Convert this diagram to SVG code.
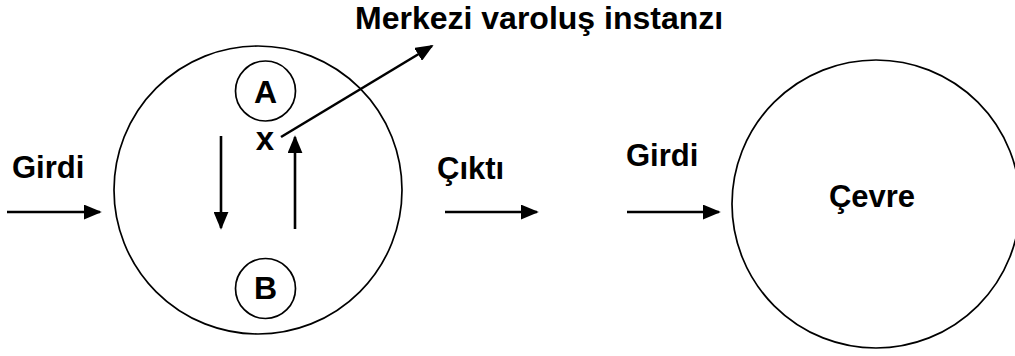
<svg xmlns="http://www.w3.org/2000/svg" width="1015" height="356" viewBox="0 0 1015 356">
<style>
.t{font-family:"Liberation Sans",Arial,sans-serif;font-weight:bold;font-size:31px;fill:#000}
.c{fill:none;stroke:#000;stroke-width:1.7}
.a{stroke:#000;stroke-width:2.6;fill:none}
</style>
<defs>
<marker id="ah" viewBox="0 0 10 10" refX="9" refY="5" markerWidth="18" markerHeight="15" markerUnits="userSpaceOnUse" orient="auto" preserveAspectRatio="none">
<path d="M0,0 L10,5 L0,10 Z" fill="#000"/>
</marker>
</defs>
<rect width="1015" height="356" fill="#fff"/>
<g id="system">
<circle class="c" cx="258" cy="190" r="144"/>
</g>
<g id="nodeA">
<circle class="c" cx="265.5" cy="91" r="30"/>
<text class="t" x="265.5" y="103" text-anchor="middle" style="font-size:32px">A</text>
</g>
<g id="nodeB">
<circle class="c" cx="265.5" cy="288.5" r="30"/>
<text class="t" x="265.5" y="299" text-anchor="middle" style="font-size:32px">B</text>
</g>
<g id="pointX">
<text class="t" x="265" y="150" text-anchor="middle" style="font-size:33px">x</text>
</g>
<g id="environment">
<circle class="c" cx="876" cy="204" r="144"/>
<text class="t" x="872" y="207" text-anchor="middle">Çevre</text>
</g>
<g id="labels">
<text class="t" x="355" y="29" style="font-size:32px">Merkezi varoluş instanzı</text>
<text class="t" x="12" y="178">Girdi</text>
<text class="t" x="437" y="179">Çıktı</text>
<text class="t" x="626" y="166">Girdi</text>
</g>
<g id="connectors">
<line class="a" x1="7" y1="212" x2="100" y2="212" marker-end="url(#ah)"/>
<line class="a" x1="221" y1="136" x2="221" y2="228" marker-end="url(#ah)"/>
<line class="a" x1="295" y1="229" x2="295" y2="137" marker-end="url(#ah)"/>
<line class="a" x1="281" y1="137" x2="432" y2="46" marker-end="url(#ah)"/>
<line class="a" x1="445" y1="212" x2="537" y2="212" marker-end="url(#ah)"/>
<line class="a" x1="627" y1="212" x2="719" y2="212" marker-end="url(#ah)"/>
</g>
</svg>
